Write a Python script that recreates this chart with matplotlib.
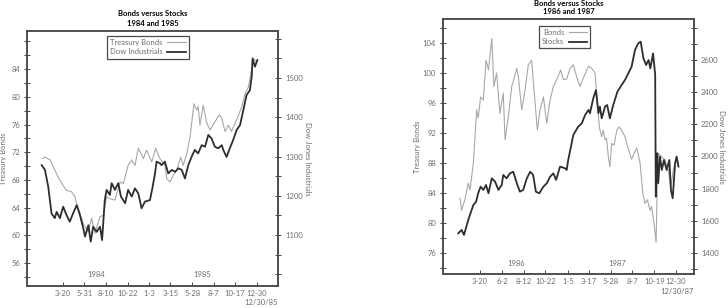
import matplotlib
matplotlib.use('Agg')
import matplotlib.pyplot as plt
from matplotlib.ticker import MultipleLocator, FixedLocator

# ---------------- data: panel 1 (1984-1985), x = days since 1 Jan 1984 ----------------
bond84_days = [10, 19, 36, 47, 63, 75, 91, 108, 119, 125, 136, 147, 164, 175, 186, 203, 214, 225, 236, 253,
               270, 281, 297, 309, 320, 331, 348, 359, 376, 389, 403, 420, 426, 437, 448, 459, 473, 481, 493, 504,
               517, 526, 531, 537, 548, 560, 571, 587, 602, 610, 621, 632, 643, 654, 662, 677, 688, 699, 710, 715, 727]
bond84_vals = [71.1, 71.3, 70.9, 69.9, 68.4, 67.5, 66.5, 66.3, 65.6, 64.6, 63.2, 61.7, 60.5, 62.5, 60.3, 62.7, 62.9, 65.6, 65.3, 65.1,
               67.7, 67.5, 70.1, 70.9, 70.1, 72.6, 71.1, 72.3, 70.6, 72.6, 71.1, 70.1, 68.2, 67.7, 68.7, 69.4, 71.3, 70.1, 71.8, 74.2,
               79.0, 78.1, 78.6, 75.9, 78.8, 76.2, 75.2, 76.4, 77.4, 76.9, 75.0, 75.9, 75.0, 76.2, 76.9, 78.6, 80.5, 81.4, 83.9, 85.5, 85.1]
dow84_days = [8, 19, 30, 41, 52, 58, 69, 80, 91, 102, 113, 125, 136, 147, 153, 164, 172, 180, 192, 203,
              210, 219, 225, 236, 242, 253, 264, 273, 287, 297, 309, 320, 331, 342, 353, 370, 378, 387, 392, 403,
              409, 420, 431, 443, 454, 465, 476, 487, 498, 509, 520, 531, 543, 554, 565, 576, 587, 598, 610, 615,
              626, 637, 648, 660, 671, 682, 693, 704, 710, 713, 721, 729]
dow84_vals = [1278, 1266, 1223, 1155, 1143, 1159, 1143, 1172, 1151, 1134, 1155, 1176, 1151, 1117, 1096, 1125, 1083, 1121, 1108, 1121,
              1087, 1189, 1215, 1202, 1232, 1215, 1232, 1198, 1181, 1215, 1198, 1219, 1206, 1168, 1185, 1189, 1219, 1257, 1287, 1283,
              1278, 1287, 1257, 1266, 1261, 1270, 1266, 1244, 1278, 1299, 1317, 1308, 1329, 1325, 1355, 1346, 1325, 1321, 1329, 1317,
              1299, 1321, 1342, 1368, 1380, 1418, 1457, 1469, 1503, 1550, 1529, 1546]
ticks84_days = [79, 151, 222, 295, 368, 438, 512, 583, 654, 728]
ticks84_labels = ['3-20', '5-31', '8-10', '10-22', '1-3', '3-15', '5-28', '8-7', '10-17', '12-30']
years84 = ['1984', '1985']
years84_days = [189, 544]

# ---------------- data: panel 2 (1986-1987), x = days since 1 Jan 1986 ----------------
bond86_days = [13, 18, 29, 40, 46, 57, 68, 73, 81, 90, 99, 107, 118, 125, 134, 145, 156, 162, 173, 184,
               201, 206, 217, 228, 239, 250, 261, 269, 278, 289, 300, 311, 322, 335, 346, 355, 366, 377, 388, 399,
               410, 423, 438, 449, 460, 465, 474, 482, 487, 493, 498, 504, 509, 515, 523, 532, 540, 548, 559, 570,
               581, 589, 598, 609, 618, 625, 633, 642, 647, 655, 662, 666, 669, 681, 692, 702, 711, 719, 730, 736]
bond86_vals = [83.3, 81.7, 83.1, 85.3, 84.4, 88.0, 95.1, 94.0, 96.8, 96.4, 101.7, 100.4, 104.6, 98.2, 100.0, 94.6, 97.3, 91.1, 94.2, 98.2,
               100.6, 99.5, 95.1, 97.7, 101.1, 101.7, 96.2, 92.4, 95.1, 96.8, 93.3, 96.4, 98.2, 99.3, 100.4, 99.1, 99.2, 100.6, 101.1, 99.5,
               98.2, 99.5, 100.9, 100.6, 100.0, 97.3, 92.8, 91.5, 92.4, 91.1, 91.3, 88.8, 87.5, 90.6, 90.4, 92.4, 92.8, 92.4, 91.5, 89.9,
               88.5, 89.3, 90.0, 88.0, 84.0, 82.6, 83.1, 81.7, 82.2, 80.0, 77.4, 85.7, 89.3, 88.8, 88.4, 87.1, 84.8, 87.1, 88.8, 87.7]
dow86_days = [7, 18, 26, 40, 57, 66, 73, 81, 90, 99, 107, 118, 129, 140, 151, 156, 167, 178, 189, 201,
              211, 222, 234, 245, 255, 264, 275, 289, 300, 311, 322, 331, 344, 360, 366, 371, 388, 404, 416, 427,
              438, 443, 454, 463, 471, 476, 482, 493, 500, 509, 520, 534, 548, 559, 570, 581, 592, 603, 611, 620,
              629, 637, 643, 652, 659, 661, 666, 669, 675, 681, 688, 697, 706, 711, 717, 725, 730, 736]
dow86_vals = [1522, 1543, 1512, 1605, 1698, 1719, 1771, 1812, 1792, 1823, 1771, 1864, 1843, 1792, 1823, 1885, 1864, 1895, 1905, 1833,
              1781, 1792, 1864, 1905, 1885, 1781, 1771, 1812, 1833, 1874, 1895, 1854, 1937, 1927, 1916, 1978, 2134, 2185, 2206, 2258,
              2289, 2269, 2362, 2413, 2269, 2310, 2237, 2310, 2320, 2237, 2320, 2403, 2445, 2476, 2517, 2559, 2662, 2704, 2714, 2611,
              2569, 2600, 2548, 2641, 2507, 1750, 2020, 1833, 1999, 1916, 1978, 1916, 1978, 1792, 1740, 1958, 1999, 1937]
ticks86_days = [79, 153, 224, 295, 370, 440, 512, 583, 656, 728]
ticks86_labels = ['3-20', '6-2', '8-12', '10-22', '1-5', '3-17', '5-28', '8-7', '10-19', '12-30']
years86 = ['1986', '1987']
years86_days = [198, 533]

plt.rcParams['font.family'] = ['Lato', 'DejaVu Sans']

BOND_C = '#a8a8a8'
STOCK_C = '#2e2e2e'
TXT_C = '#6e6e6e'
SPINE_C = '#4a4a4a'
FS = 5.5

fig = plt.figure(figsize=(7.28, 3.08), dpi=100)


def panel(rect, bdays, bvals, ddays, dvals, tdays, tlabels, ydays, ylabels, end_label,
          xlim, blim, bmajor, bminor, dlim, dmajor, dminor, leg_labels, leg_anchor,
          lab_left_x, lab_right_x, year_y, end_y):
    ax = fig.add_axes(rect)
    ax2 = ax.twinx()
    l1, = ax.plot(bdays, bvals, color=BOND_C, lw=0.8)
    l2, = ax2.plot(ddays, dvals, color=STOCK_C, lw=1.3)
    ax.set_xlim(*xlim)
    ax.set_ylim(*blim)
    ax2.set_ylim(*dlim)
    ax.set_xticks(tdays)
    ax.set_xticklabels(tlabels)
    ax.yaxis.set_major_locator(FixedLocator(bmajor))
    ax.yaxis.set_minor_locator(MultipleLocator(bminor))
    ax2.yaxis.set_major_locator(FixedLocator(dmajor))
    ax2.yaxis.set_minor_locator(MultipleLocator(dminor))
    for a in (ax, ax2):
        for s in a.spines.values():
            s.set_color(SPINE_C)
            s.set_linewidth(1.1)
        a.tick_params(axis='y', which='both', direction='inout', color=SPINE_C,
                      labelsize=FS, labelcolor=TXT_C, width=0.7)
        a.tick_params(axis='y', which='major', length=4, pad=3)
        a.tick_params(axis='y', which='minor', length=4)
    ax.tick_params(axis='x', direction='in', length=3, color=SPINE_C, labelsize=FS,
                   labelcolor=TXT_C, width=0.7, pad=3)
    ax.set_ylabel('Treasury Bonds', fontsize=FS, color=TXT_C)
    ax.yaxis.set_label_coords(lab_left_x, 0.5)
    ax2.set_ylabel('Dow Jones Industrials', fontsize=FS, color=TXT_C, rotation=270, va='center')
    ax2.yaxis.set_label_coords(lab_right_x, 0.5)
    for d, t in zip(ydays, ylabels):
        ax.text(d, year_y, t, transform=ax.get_xaxis_transform(), fontsize=FS,
                color=TXT_C, ha='center', va='center')
    ax.text(1.0, end_y, end_label, transform=ax.transAxes, fontsize=FS, color=TXT_C,
            ha='right', va='center')
    leg = ax2.legend([l1, l2], leg_labels, loc='upper center', bbox_to_anchor=leg_anchor,
                     markerfirst=False, fontsize=FS, fancybox=False, framealpha=1,
                     edgecolor=SPINE_C, handlelength=2.4, borderpad=0.4, labelspacing=0.3,
                     handletextpad=0.6, borderaxespad=0)
    leg.get_frame().set_linewidth(0.9)
    for t in leg.get_texts():
        t.set_color(TXT_C)
    return ax


panel([27 / 728, 22 / 308, 251 / 728, 255 / 308],
      bond84_days, bond84_vals, dow84_days, dow84_vals, ticks84_days, ticks84_labels,
      years84_days, years84, '12/30/85',
      (-41, 798), (52.7, 89.5), [56, 60, 64, 68, 72, 76, 80, 84], 2,
      (970, 1620), [1100, 1200, 1300, 1400, 1500], 50,
      ['Treasury Bonds', 'Dow Industrials'], (0.482, 0.98),
      -0.08, 1.116, 0.047, -0.063)

panel([443 / 728, 34 / 308, 251 / 728, 255 / 308],
      bond86_days, bond86_vals, dow86_days, dow86_vals, ticks86_days, ticks86_labels,
      years86_days, years86, '12/30/87',
      (-43.5, 787.5), (73.2, 107.2), [76, 80, 84, 88, 92, 96, 100, 104], 2,
      (1269, 2855), [1400, 1600, 1800, 2000, 2200, 2400, 2600], 100,
      ['Bonds', 'Stocks'], (0.484, 0.973),
      -0.088, 1.111, 0.043, -0.067)

fig.text(152.5 / 728, 1 - 14 / 308, 'Bonds versus Stocks', fontsize=FS, fontweight='bold',
         ha='center', va='center', color='black')
fig.text(152.5 / 728, 1 - 23 / 308, '1984 and 1985', fontsize=FS, fontweight='bold',
         ha='center', va='center', color='black')
fig.text(568.5 / 728, 1 - 3 / 308, 'Bonds versus Stocks', fontsize=FS, fontweight='bold',
         ha='center', va='center', color='black')
fig.text(568.5 / 728, 1 - 12 / 308, '1986 and 1987', fontsize=FS, fontweight='bold',
         ha='center', va='center', color='black')

fig.savefig('out.png', dpi=100)
